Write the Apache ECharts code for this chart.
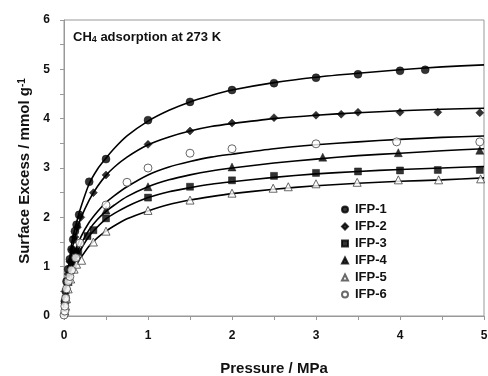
<!DOCTYPE html>
<html>
<head>
<meta charset="utf-8">
<script src="https://cdn.jsdelivr.net/npm/echarts@6/dist/echarts.min.js"></script>
<style>
html, body { margin: 0; padding: 0; background: #fff; }
#main { width: 488px; height: 376px; }
</style>
</head>
<body>
<div id="main"></div>
<script>
var myChart = echarts.init(document.getElementById('main'));

var sampleNames = ['IFP-1', 'IFP-2', 'IFP-3', 'IFP-4', 'IFP-5', 'IFP-6'];

// measured points [pressure MPa, excess mmol/g]
var pts1 = [[0.01,0.3],[0.02,0.5],[0.03,0.7],[0.05,0.95],[0.07,1.15],[0.09,1.35],[0.11,1.55],[0.13,1.72],[0.15,1.85],[0.18,2.05],[0.3,2.72],[0.5,3.18],[1,3.97],[1.5,4.34],[2,4.58],[2.5,4.72],[3,4.83],[3.5,4.9],[4,4.97],[4.3,4.99]];
var pts2 = [[0.01,0.25],[0.03,0.55],[0.05,0.85],[0.07,1.1],[0.1,1.35],[0.13,1.6],[0.16,1.8],[0.2,2.0],[0.35,2.5],[0.5,2.86],[1,3.48],[1.5,3.75],[2,3.91],[2.5,4.02],[3,4.07],[3.3,4.09],[3.5,4.13],[4,4.13],[4.45,4.13],[4.95,4.12]];
var pts3 = [[0.02,0.35],[0.05,0.7],[0.08,0.95],[0.1,1.1],[0.13,1.25],[0.17,1.3],[0.28,1.62],[0.35,1.74],[0.5,1.98],[1,2.4],[1.5,2.62],[2,2.75],[2.5,2.84],[3,2.9],[3.5,2.93],[4,2.95],[4.45,2.96],[4.95,2.96]];
var pts4 = [[0.02,0.35],[0.05,0.7],[0.08,0.95],[0.12,1.2],[0.15,1.35],[0.5,2.15],[1,2.62],[2,3.02],[3.08,3.22],[3.98,3.31],[4.95,3.36]];
var pts5 = [[0.01,0.1],[0.02,0.2],[0.03,0.35],[0.05,0.55],[0.08,0.75],[0.12,0.95],[0.15,1.05],[0.21,1.13],[0.35,1.5],[0.5,1.72],[1,2.14],[1.5,2.35],[2,2.49],[2.49,2.59],[2.67,2.62],[3,2.68],[3.49,2.71],[3.98,2.76],[4.46,2.76],[4.96,2.78]];
var pts6 = [[0,0.02],[0.01,0.1],[0.01,0.2],[0.02,0.36],[0.03,0.55],[0.05,0.7],[0.07,0.8],[0.09,0.93],[0.14,1.18],[0.19,1.48],[0.5,2.25],[0.75,2.71],[1,3.0],[1.5,3.3],[2,3.39],[3,3.49],[3.96,3.53],[4.95,3.53]];

// fitted curves
var fitP = [0, 0.02, 0.05, 0.1, 0.15, 0.2, 0.3, 0.4, 0.5, 0.6, 0.75, 1, 1.25, 1.5, 1.75, 2, 2.5, 3, 3.5, 4, 4.5, 5];
var fit1 = [0, 0.45, 0.95, 1.55, 1.9, 2.2, 2.68, 2.98, 3.2, 3.4, 3.65, 3.95, 4.17, 4.34, 4.47, 4.58, 4.73, 4.84, 4.92, 4.99, 5.05, 5.09];
var fit2 = [0, 0.4, 0.85, 1.38, 1.72, 1.98, 2.35, 2.63, 2.85, 3.02, 3.22, 3.47, 3.63, 3.75, 3.84, 3.9, 4.0, 4.07, 4.12, 4.16, 4.19, 4.21];
var fit3 = [0, 0.3, 0.65, 1.0, 1.2, 1.35, 1.62, 1.81, 1.97, 2.08, 2.22, 2.4, 2.52, 2.6, 2.67, 2.72, 2.81, 2.88, 2.93, 2.97, 3.0, 3.03];
var fit4 = [0, 0.33, 0.7, 1.05, 1.27, 1.45, 1.75, 1.96, 2.12, 2.25, 2.42, 2.62, 2.76, 2.86, 2.94, 3.0, 3.1, 3.18, 3.25, 3.3, 3.35, 3.39];
var fit5 = [0, 0.28, 0.55, 0.85, 1.04, 1.18, 1.42, 1.59, 1.72, 1.83, 1.97, 2.13, 2.26, 2.35, 2.42, 2.48, 2.57, 2.64, 2.69, 2.73, 2.76, 2.8];
var fit6 = [0, 0.33, 0.7, 1.1, 1.38, 1.6, 1.9, 2.12, 2.3, 2.44, 2.62, 2.86, 3.02, 3.13, 3.22, 3.28, 3.39, 3.47, 3.53, 3.58, 3.62, 3.65];

var xTicks = [0, 1, 2, 3, 4, 5];
var yTicks = [0, 1, 2, 3, 4, 5, 6];

var allPts = [pts1, pts2, pts3, pts4, pts5, pts6];
var allFits = [fit1, fit2, fit3, fit4, fit5, fit6];
var symbols = ['circle', 'diamond', 'rect', 'triangle', 'triangle', 'circle'];
var sizes = [8, 8, 7, 8, 8, 8];
var hollow = [false, false, false, false, true, true];

var font = 'Liberation Sans, Arial, sans-serif';

var series = [];
allFits.forEach(function (f, i) {
    series.push({
        name: sampleNames[i] + ' fit',
        type: 'line',
        data: fitP.map(function (p, k) { return [p, f[k]]; }),
        showSymbol: false,
        smooth: 0.25,
        lineStyle: { color: '#000', width: 1.6 },
        z: 2,
        silent: true
    });
});
allPts.forEach(function (d, i) {
    series.push({
        name: sampleNames[i],
        type: 'scatter',
        data: d,
        symbol: symbols[i],
        symbolSize: sizes[i],
        itemStyle: hollow[i]
            ? { color: '#fff', borderColor: '#444', borderWidth: 1 }
            : { color: '#000', borderColor: '#000', borderWidth: 0.5 },
        z: 3
    });
});

var option = {
    backgroundColor: '#fff',
    animation: false,
    textStyle: { fontFamily: font },
    title: {
        text: '{b|CH}{s|4}{b| adsorption at 273 K}',
        left: 68,
        top: 24,
        textStyle: {
            rich: {
                b: { fontFamily: font, fontSize: 13, fontWeight: 'bold', color: '#111', lineHeight: 15, verticalAlign: 'bottom' },
                s: { fontFamily: font, fontSize: 9, fontWeight: 'bold', color: '#111', lineHeight: 10, verticalAlign: 'bottom' }
            }
        }
    },
    grid: {
        left: 64,
        right: 4,
        top: 20,
        bottom: 60,
        containLabel: false,
        outerBoundsMode: 'none',
        show: true,
        borderColor: '#999',
        borderWidth: 1,
        backgroundColor: 'transparent'
    },
    legend: {
        data: sampleNames,
        orient: 'vertical',
        left: 336,
        top: 198,
        itemWidth: 6,
        itemHeight: 6,
        itemGap: 4,
        textStyle: { fontFamily: font, fontSize: 13, fontWeight: 'bold', color: '#111', padding: [0, 0, 0, 2] }
    },
    xAxis: {
        type: 'value',
        min: 0,
        max: 5,
        interval: 1,
        name: 'Pressure / MPa',
        nameLocation: 'middle',
        nameGap: 45,
        nameTextStyle: { fontFamily: font, fontSize: 15, fontWeight: 'bold', color: '#111' },
        axisLine: { onZero: false, lineStyle: { color: '#999', width: 1 } },
        axisTick: { show: true, inside: false, length: 4, lineStyle: { color: '#999' } },
        minorTick: { show: true, splitNumber: 2, length: 4, lineStyle: { color: '#999' } },
        splitLine: { show: false },
        axisLabel: {
            margin: 14,
            fontFamily: font, fontSize: 12, fontWeight: 'bold', color: '#111',
            formatter: function (v) { return xTicks.indexOf(v) >= 0 ? String(v) : ''; }
        }
    },
    yAxis: {
        type: 'value',
        min: 0,
        max: 6,
        interval: 1,
        name: 'Surface Excess / mmol g{sup|-1}',
        nameLocation: 'middle',
        nameGap: 32,
        nameTextStyle: {
            fontFamily: font, fontSize: 15, fontWeight: 'bold', color: '#111',
            padding: [0, 6, 0, 0],
            rich: {
                sup: { fontFamily: font, fontSize: 10, fontWeight: 'bold', color: '#111', verticalAlign: 'top', lineHeight: 10 }
            }
        },
        axisLine: { onZero: false, lineStyle: { color: '#999', width: 1 } },
        axisTick: { show: true, inside: false, length: 4, lineStyle: { color: '#999' } },
        minorTick: { show: true, splitNumber: 2, length: 4, lineStyle: { color: '#999' } },
        splitLine: { show: false },
        axisLabel: {
            margin: 14,
            fontFamily: font, fontSize: 12, fontWeight: 'bold', color: '#111',
            formatter: function (v) { return yTicks.indexOf(v) >= 0 ? String(v) : ''; }
        }
    },
    series: series
};
myChart.setOption(option);
</script>
</body>
</html>
